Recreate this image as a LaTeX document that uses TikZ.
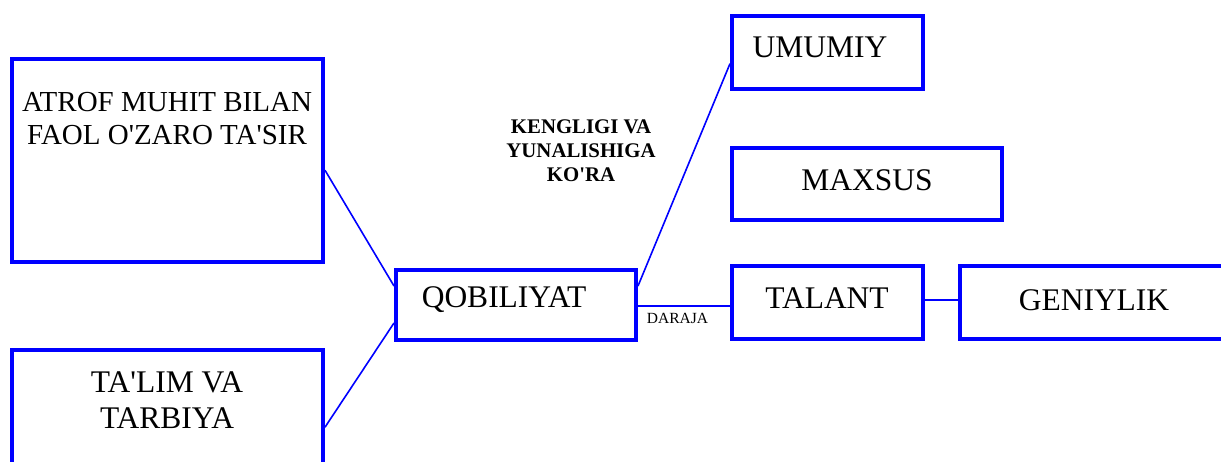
\documentclass[tikz,border=0pt]{standalone}
\usepackage{fontspec}
\setmainfont{Liberation Serif}
\usetikzlibrary{calc}
\newcommand{\ap}{\textquotesingle}
\begin{document}
\begin{tikzpicture}[x=1pt,y=-1pt,
  box/.style={draw={rgb,255:red,0;green,0;blue,255}, line width=4pt, rectangle, inner sep=0pt, fill=none},
  link/.style={draw={rgb,255:red,0;green,0;blue,255}, line width=1.6pt},
  big/.style={font=\fontsize{31.5}{36}\selectfont, align=center, inner sep=0pt},
  mid/.style={font=\fontsize{29}{33}\selectfont, align=center, inner sep=0pt},
  head/.style={font=\bfseries\fontsize{20.8}{24}\selectfont, align=center, inner sep=0pt},
  small/.style={font=\fontsize{15.5}{18}\selectfont, inner sep=0pt}]
\useasboundingbox (0,0) rectangle (1221,461);
\begin{scope}
\clip (0,0) rectangle (1221,461);
% boxes
\node[box, minimum width=311pt, minimum height=203pt] (atrof) at (167.5,160.5) {};
\node[box, minimum width=311pt, minimum height=140pt] (taalim) at (167.5,420) {};
\node[box, minimum width=240pt, minimum height=70pt] (qob) at (516,305) {};
\node[box, minimum width=191pt, minimum height=73.5pt] (umumiy) at (827.5,52.3) {};
\node[box, minimum width=270pt, minimum height=72.5pt] (maxsus) at (867,183.8) {};
\node[box, minimum width=191pt, minimum height=73pt] (talant) at (827.5,302.5) {};
\node[box, minimum width=300pt, minimum height=73.5pt] (gen) at (1110,302.7) {};
% texts
\node[mid] (t-atrof) at (167,118.5) {ATROF MUHIT BILAN\\FAOL O\ap ZARO TA\ap SIR};
\node[big] (t-taalim) at (167,400) {TA\ap LIM VA\\TARBIYA};
\node[big] (t-qob) at (504,300) {QOBILIYAT};
\node[big] (t-umumiy) at (820,47) {UMUMIY};
\node[big] (t-maxsus) at (867,180) {MAXSUS};
\node[big] (t-talant) at (827,298) {TALANT};
\node[big] (t-gen) at (1094,300) {GENIYLIK};
\node[head] (t-head) at (581,151) {KENGLIGI VA\\YUNALISHIGA\\KO\ap RA};
% connectors
\draw[link] ($(atrof.north east)!0.547!(atrof.south east)$) -- ($(qob.north west)!0.243!(qob.south west)$);
\draw[link] ($(taalim.north east)!0.55!(taalim.south east)$) -- ($(qob.north west)!0.743!(qob.south west)$);
\draw[link] ($(qob.north east)!0.243!(qob.south east)$) -- ($(umumiy.north west)!0.646!(umumiy.south west)$);
\draw[link] ([yshift=-1pt]qob.east) -- ([yshift=-1pt]qob.east -| talant.west) node[small, pos=0.43, below=6pt] (t-daraja) {DARAJA};
\coordinate (tg) at ($(talant.north east)!0.47!(talant.south east)$);
\draw[link] (tg) -- (tg -| gen.west);
\end{scope}
\end{tikzpicture}
\end{document}
